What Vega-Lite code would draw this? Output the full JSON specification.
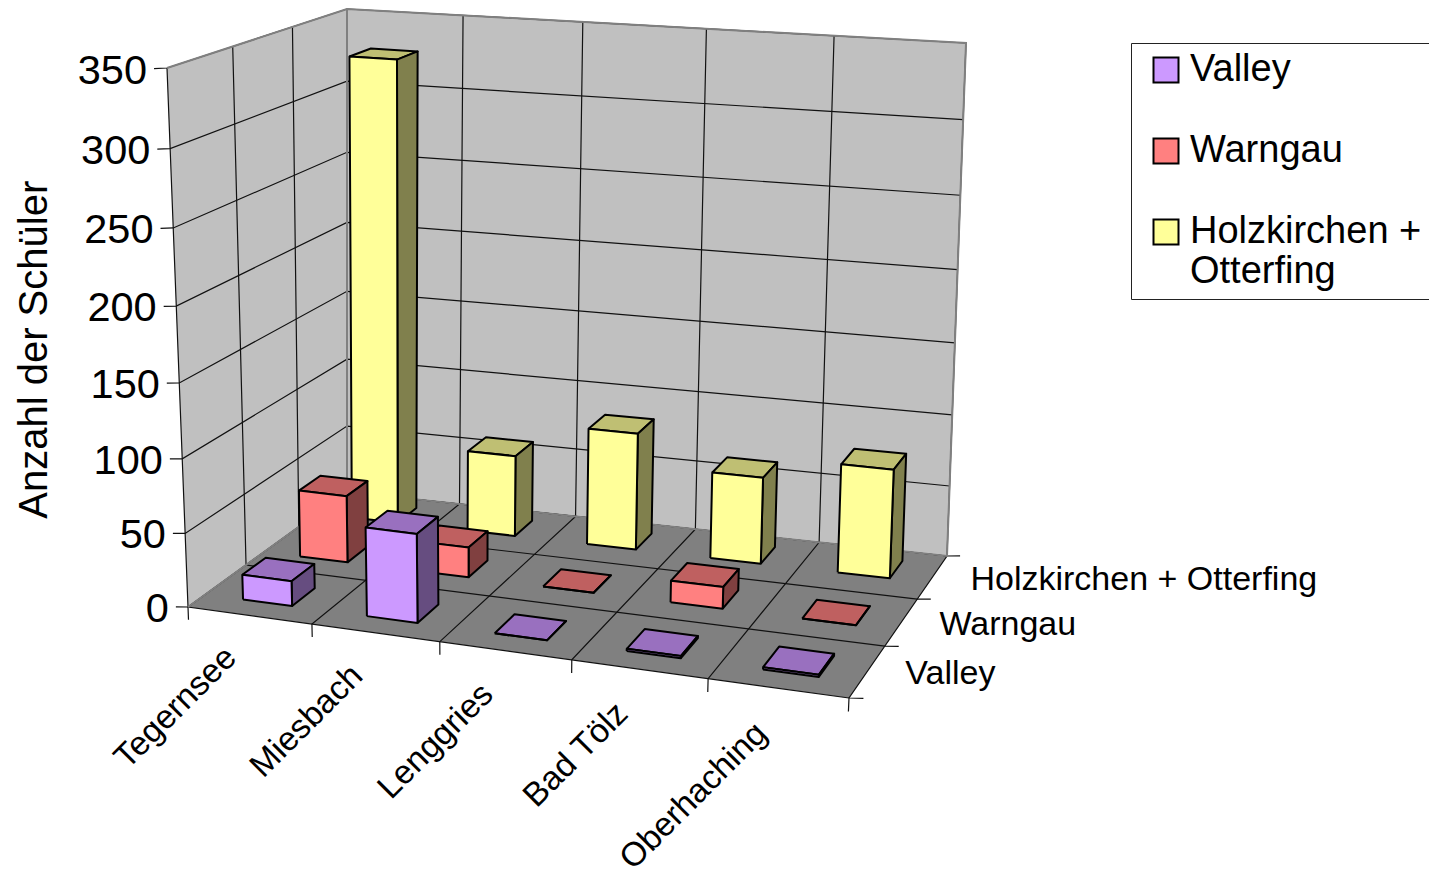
{
"$schema":"https://vega.github.io/schema/vega-lite/v6.json",
"width":1429,"height":872,"padding":0,"autosize":"none",
"config":{"view":{"stroke":null},"font":"Liberation Sans"},
"params":[
{"name":"cx","value":[188,849,347,947,167,874,347,966]},
{"name":"cy","value":[607,698,492,556,68,130,9,43]}
],
"data":{"values":[
{"kind":"plane","face":"left"},{"kind":"plane","face":"back"},{"kind":"plane","face":"floor"},
{"kind":"gridV","count":0},{"kind":"gridV","count":50},{"kind":"gridV","count":100},{"kind":"gridV","count":150},{"kind":"gridV","count":200},{"kind":"gridV","count":250},{"kind":"gridV","count":300},{"kind":"gridV","count":350},
{"kind":"gridU","pos":0},{"kind":"gridU","pos":1},{"kind":"gridU","pos":2},{"kind":"gridU","pos":3},{"kind":"gridU","pos":4},{"kind":"gridU","pos":5},
{"kind":"gridT","pos":0},{"kind":"gridT","pos":1},{"kind":"gridT","pos":2},{"kind":"gridT","pos":3},
{"kind":"edge","face":"top"},{"kind":"edge","face":"corner"},
{"kind":"bar","school":"Tegernsee","series":"Holzkirchen + Otterfing","count":327},
{"kind":"bar","school":"Miesbach","series":"Holzkirchen + Otterfing","count":58},
{"kind":"bar","school":"Lenggries","series":"Holzkirchen + Otterfing","count":83},
{"kind":"bar","school":"Bad Tölz","series":"Holzkirchen + Otterfing","count":61},
{"kind":"bar","school":"Oberhaching","series":"Holzkirchen + Otterfing","count":76},
{"kind":"bar","school":"Tegernsee","series":"Warngau","count":47},
{"kind":"bar","school":"Miesbach","series":"Warngau","count":21},
{"kind":"bar","school":"Lenggries","series":"Warngau","count":0},
{"kind":"bar","school":"Bad Tölz","series":"Warngau","count":15},
{"kind":"bar","school":"Oberhaching","series":"Warngau","count":0},
{"kind":"bar","school":"Tegernsee","series":"Valley","count":17},
{"kind":"bar","school":"Miesbach","series":"Valley","count":60},
{"kind":"bar","school":"Lenggries","series":"Valley","count":0},
{"kind":"bar","school":"Bad Tölz","series":"Valley","count":1.5},
{"kind":"bar","school":"Oberhaching","series":"Valley","count":1.5},
{"kind":"schoolLabel","school":"Tegernsee"},{"kind":"schoolLabel","school":"Miesbach"},{"kind":"schoolLabel","school":"Lenggries"},{"kind":"schoolLabel","school":"Bad Tölz"},{"kind":"schoolLabel","school":"Oberhaching"},
{"kind":"seriesLabel","series":"Valley"},{"kind":"seriesLabel","series":"Warngau"},{"kind":"seriesLabel","series":"Holzkirchen + Otterfing"},
{"kind":"title","label":"Anzahl der Schüler"}
]},
"transform":[
{"calculate":"indexof(['Tegernsee','Miesbach','Lenggries','Bad Tölz','Oberhaching'],datum.school)","as":"ci"},
{"calculate":"indexof(['Valley','Warngau','Holzkirchen + Otterfing'],datum.series)","as":"ri"},
{"calculate":"(datum.ci+0.31-0.002*datum.ri)/5","as":"a"},
{"calculate":"(datum.ci+0.71-0.002*datum.ri)/5","as":"b"},
{"calculate":"(datum.ri+0.29+0.04*datum.ri)/3","as":"r0"},
{"calculate":"(datum.ri+0.7+0.04*datum.ri)/3","as":"r1"},
{"calculate":"datum.count/350","as":"h"},
{"calculate":"datum.kind=='bar'?['top','side','front']:[datum.face||'x']","as":"faces"},
{"flatten":["faces"]},
{"calculate":"datum.kind=='bar'?(datum.faces=='front'?[[datum.a,datum.r0,0],[datum.b,datum.r0,0],[datum.b,datum.r0,datum.h],[datum.a,datum.r0,datum.h],[datum.a,datum.r0,0]]:datum.faces=='side'?[[datum.b,datum.r0,0],[datum.b,datum.r1,0],[datum.b,datum.r1,datum.h],[datum.b,datum.r0,datum.h],[datum.b,datum.r0,0]]:[[datum.a,datum.r0,datum.h],[datum.b,datum.r0,datum.h],[datum.b,datum.r1,datum.h],[datum.a,datum.r1,datum.h],[datum.a,datum.r0,datum.h]]):datum.kind=='plane'?(datum.faces=='floor'?[[0,0,0],[1,0,0],[1,1,0],[0,1,0],[0,0,0]]:datum.faces=='left'?[[0,0,0],[0,1,0],[0,1,1],[0,0,1],[0,0,0]]:[[0,1,0],[1,1,0],[1,1,1],[0,1,1],[0,1,0]]):datum.kind=='gridV'?[[-0.02,0,datum.h-0.003],[0,0,datum.h],[0,1,datum.h],[1,1,datum.h]]:datum.kind=='gridU'?[[datum.pos/5,0,-0.025],[datum.pos/5,0,0],[datum.pos/5,1,0],[datum.pos/5,1,1]]:datum.kind=='gridT'?[[1.02,datum.pos/3,0.003],[1,datum.pos/3,0],[0,datum.pos/3,0],[0,datum.pos/3,1]]:datum.kind=='edge'?(datum.faces=='top'?[[0,0,1],[0,1,1],[1,1,1],[1,1,0],[0,1,0],[0,0,0]]:[[0,1,1],[0,1,0]]):datum.kind=='schoolLabel'?[[(datum.ci+0.46)/5,-0.08,-0.052]]:datum.kind=='seriesLabel'?[[1,(datum.ri+0.5)/3,0]]:[[-0.232,0,0.46]]","as":"pts"},
{"calculate":"sequence(0,length(datum.pts))","as":"idx"},
{"flatten":["pts","idx"]},
{"calculate":"(1-0.077)*datum.pts[0]/(1-0.077*datum.pts[0])","as":"U"},
{"calculate":"(1+0.15)*datum.pts[1]/(1+0.15*datum.pts[1])","as":"T"},
{"calculate":"(1-0.052)*datum.pts[2]/(1-0.052*datum.pts[2])","as":"W"},
{"calculate":"(1-datum.W)*((1-datum.T)*((1-datum.U)*cx[0]+datum.U*cx[1])+datum.T*((1-datum.U)*cx[2]+datum.U*cx[3]))+datum.W*((1-datum.T)*((1-datum.U)*cx[4]+datum.U*cx[5])+datum.T*((1-datum.U)*cx[6]+datum.U*cx[7]))","as":"px"},
{"calculate":"(1-datum.W)*((1-datum.T)*((1-datum.U)*cy[0]+datum.U*cy[1])+datum.T*((1-datum.U)*cy[2]+datum.U*cy[3]))+datum.W*((1-datum.T)*((1-datum.U)*cy[4]+datum.U*cy[5])+datum.T*((1-datum.U)*cy[6]+datum.U*cy[7]))","as":"py"},
{"calculate":"datum.kind+'|'+datum.faces+'|'+datum.school+'|'+datum.series+'|'+datum.count+'|'+datum.pos","as":"id"},
{"calculate":"datum.kind=='bar'?(datum.faces=='front'?datum.series:datum.series+'|'+datum.faces):datum.faces","as":"key"}
],
"encoding":{
"x":{"field":"px","type":"quantitative","scale":{"domain":[0,1429],"range":[0,1429],"nice":false,"zero":false},"axis":null},
"y":{"field":"py","type":"quantitative","scale":{"domain":[0,872],"range":[0,872],"nice":false,"zero":false},"axis":null}
},
"layer":[
{"transform":[{"filter":"datum.kind=='plane'"}],
 "mark":{"type":"line","strokeWidth":0,"stroke":"#808080"},
 "encoding":{"detail":{"field":"id"},"order":{"field":"idx","type":"quantitative"},
 "fill":{"field":"key","type":"nominal","scale":{"domain":["Valley","Warngau","Holzkirchen + Otterfing","Valley|side","Warngau|side","Holzkirchen + Otterfing|side","Valley|top","Warngau|top","Holzkirchen + Otterfing|top","left","back","floor"],"range":["#cc99ff","#ff8080","#ffff99","#664d80","#804040","#80804d","#9970bf","#bf6060","#bfbf73","#c0c0c0","#c0c0c0","#808080"]},
 "legend":{"values":["Valley","Warngau","Holzkirchen + Otterfing"],"orient":"none","legendX":1131,"legendY":43,"title":null,"fillColor":"white","strokeColor":"#222222","padding":8,"symbolType":"square","symbolSize":625,"symbolOffset":8,"symbolStrokeColor":"black","symbolStrokeWidth":2,"labelFontSize":38,"labelFont":"Liberation Sans","labelColor":"black","labelLimit":400,"rowPadding":43,"labelOffset":5,"labelExpr":"datum.label=='Holzkirchen + Otterfing'?['Holzkirchen +','Otterfing']:datum.label","encoding":{"labels":{"update":{"lineHeight":{"value":45}}}}}}}},
{"transform":[{"filter":"datum.kind=='gridV'||datum.kind=='gridU'||datum.kind=='gridT'"}],
 "mark":{"type":"line","stroke":"#111111","strokeWidth":1.2},
 "encoding":{"detail":{"field":"id"},"order":{"field":"idx","type":"quantitative"}}},
{"transform":[{"filter":"datum.kind=='edge'"}],
 "mark":{"type":"line","stroke":"#808080","strokeWidth":2},
 "encoding":{"detail":{"field":"id"},"order":{"field":"idx","type":"quantitative"}}},
{"transform":[{"filter":"datum.kind=='bar'"}],
 "mark":{"type":"line","stroke":"black","strokeWidth":2,"strokeJoin":"round"},
 "encoding":{"detail":{"field":"id"},"order":{"field":"idx","type":"quantitative"},
 "fill":{"field":"key","type":"nominal","legend":null}}},
{"transform":[{"filter":"datum.kind=='gridV'&&datum.idx==0"}],
 "mark":{"type":"text","align":"right","baseline":"middle","fontSize":41.5,"dx":-7,"dy":3,"color":"black"},
 "encoding":{"text":{"field":"count","type":"quantitative"}}},
{"transform":[{"filter":"datum.kind=='schoolLabel'"}],
 "mark":{"type":"text","align":"right","baseline":"middle","fontSize":33.5,"angle":315,"color":"black"},
 "encoding":{"text":{"field":"school","type":"nominal"}}},
{"transform":[{"filter":"datum.kind=='seriesLabel'"}],
 "mark":{"type":"text","align":"left","baseline":"middle","fontSize":34,"dx":38,"dy":3,"color":"black"},
 "encoding":{"text":{"field":"series","type":"nominal"}}},
{"transform":[{"filter":"datum.kind=='title'"}],
 "mark":{"type":"text","align":"center","baseline":"middle","fontSize":40,"angle":270,"color":"black"},
 "encoding":{"text":{"field":"label","type":"nominal"}}}
]
}
